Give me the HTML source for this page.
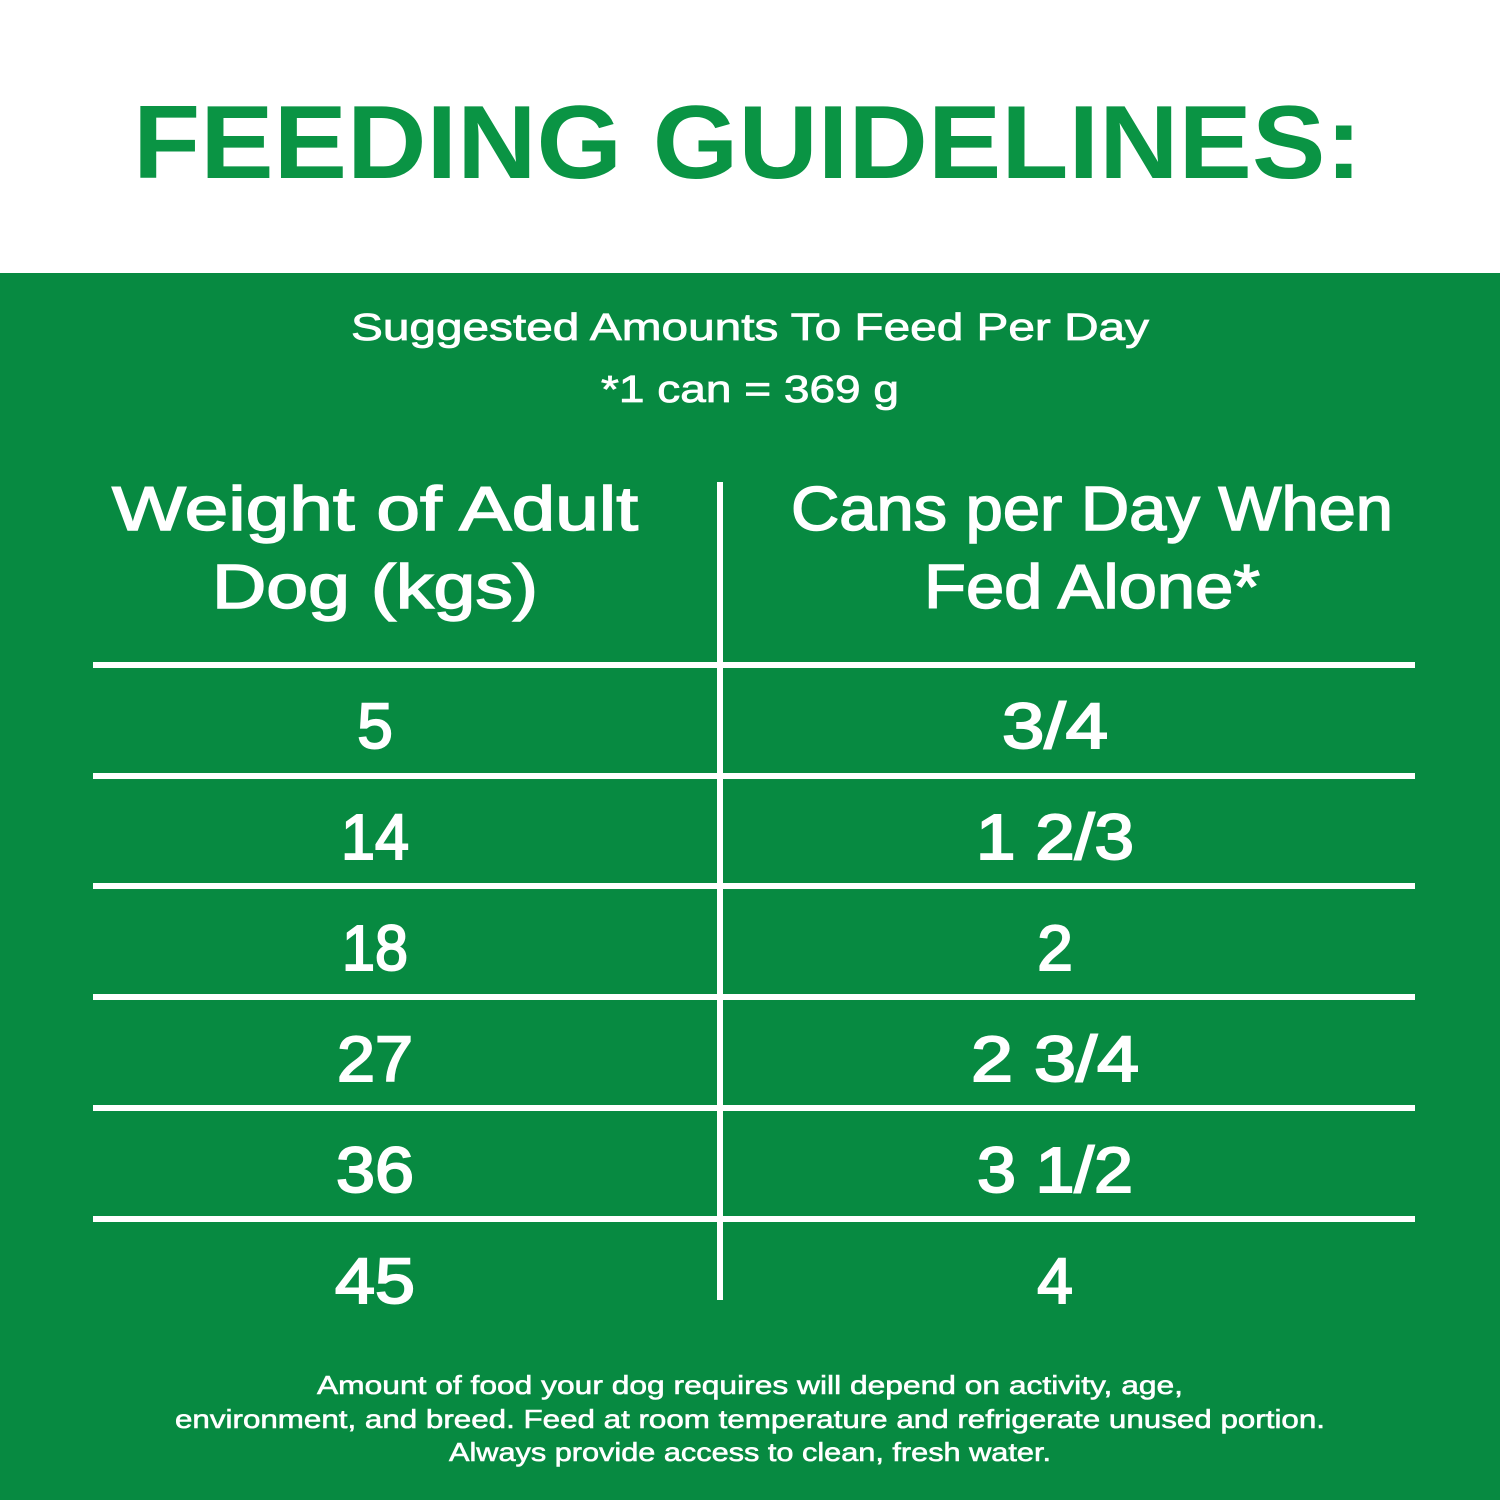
<!DOCTYPE html>
<html><head><style>body{margin:0}svg{display:block}</style></head><body>
<svg width="1500" height="1500" xmlns="http://www.w3.org/2000/svg" font-family="Liberation Sans, sans-serif">
<rect width="1500" height="1500" fill="#fff"/>
<rect y="273" width="1500" height="1227" fill="#078a41"/>
<text x="133" y="178" font-size="104" font-weight="bold" fill="#0a9444" textLength="1229" lengthAdjust="spacingAndGlyphs">FEEDING GUIDELINES:</text>
<g fill="#fff" text-anchor="middle" stroke="#fff">
<text x="750" y="340" font-size="38" stroke-width="0.8" textLength="798" lengthAdjust="spacingAndGlyphs">Suggested Amounts To Feed Per Day</text>
<text x="750" y="402" font-size="38" stroke-width="0.8" textLength="298" lengthAdjust="spacingAndGlyphs">*1 can = 369 g</text>
<g stroke-width="1.5">
<text x="375" y="530" font-size="62" textLength="526" lengthAdjust="spacingAndGlyphs">Weight of Adult</text>
<text x="375" y="608" font-size="62" textLength="326" lengthAdjust="spacingAndGlyphs">Dog (kgs)</text>
<text x="1092" y="530" font-size="62" textLength="602" lengthAdjust="spacingAndGlyphs">Cans per Day When</text>
<text x="1092" y="608" font-size="62" textLength="336" lengthAdjust="spacingAndGlyphs">Fed Alone*</text>
</g>
<g font-size="64" stroke-width="2">
<text x="375" y="748">5</text><text x="1055" y="748" textLength="106" lengthAdjust="spacingAndGlyphs">3/4</text>
<text x="375" y="859" textLength="68" lengthAdjust="spacingAndGlyphs">14</text><text x="1055" y="859" textLength="158" lengthAdjust="spacingAndGlyphs">1 2/3</text>
<text x="375" y="970" textLength="66" lengthAdjust="spacingAndGlyphs">18</text><text x="1055" y="970">2</text>
<text x="375" y="1081" textLength="76" lengthAdjust="spacingAndGlyphs">27</text><text x="1055" y="1081" textLength="168" lengthAdjust="spacingAndGlyphs">2 3/4</text>
<text x="375" y="1192" textLength="78" lengthAdjust="spacingAndGlyphs">36</text><text x="1055" y="1192" textLength="156" lengthAdjust="spacingAndGlyphs">3 1/2</text>
<text x="375" y="1303" textLength="80" lengthAdjust="spacingAndGlyphs">45</text><text x="1055" y="1303">4</text>
</g>
<g font-size="26" stroke-width="0.6">
<text x="750" y="1394" textLength="866" lengthAdjust="spacingAndGlyphs">Amount of food your dog requires will depend on activity, age,</text>
<text x="750" y="1428" textLength="1150" lengthAdjust="spacingAndGlyphs">environment, and breed. Feed at room temperature and refrigerate unused portion.</text>
<text x="750" y="1461" textLength="602" lengthAdjust="spacingAndGlyphs">Always provide access to clean, fresh water.</text>
</g>
</g>
<g fill="#fff">
<rect x="717" y="482" width="6" height="818"/>
<rect x="93" y="662" width="1322" height="6"/>
<rect x="93" y="773" width="1322" height="6"/>
<rect x="93" y="883" width="1322" height="6"/>
<rect x="93" y="994" width="1322" height="6"/>
<rect x="93" y="1105" width="1322" height="6"/>
<rect x="93" y="1216" width="1322" height="6"/>
</g>
</svg>
</body></html>
